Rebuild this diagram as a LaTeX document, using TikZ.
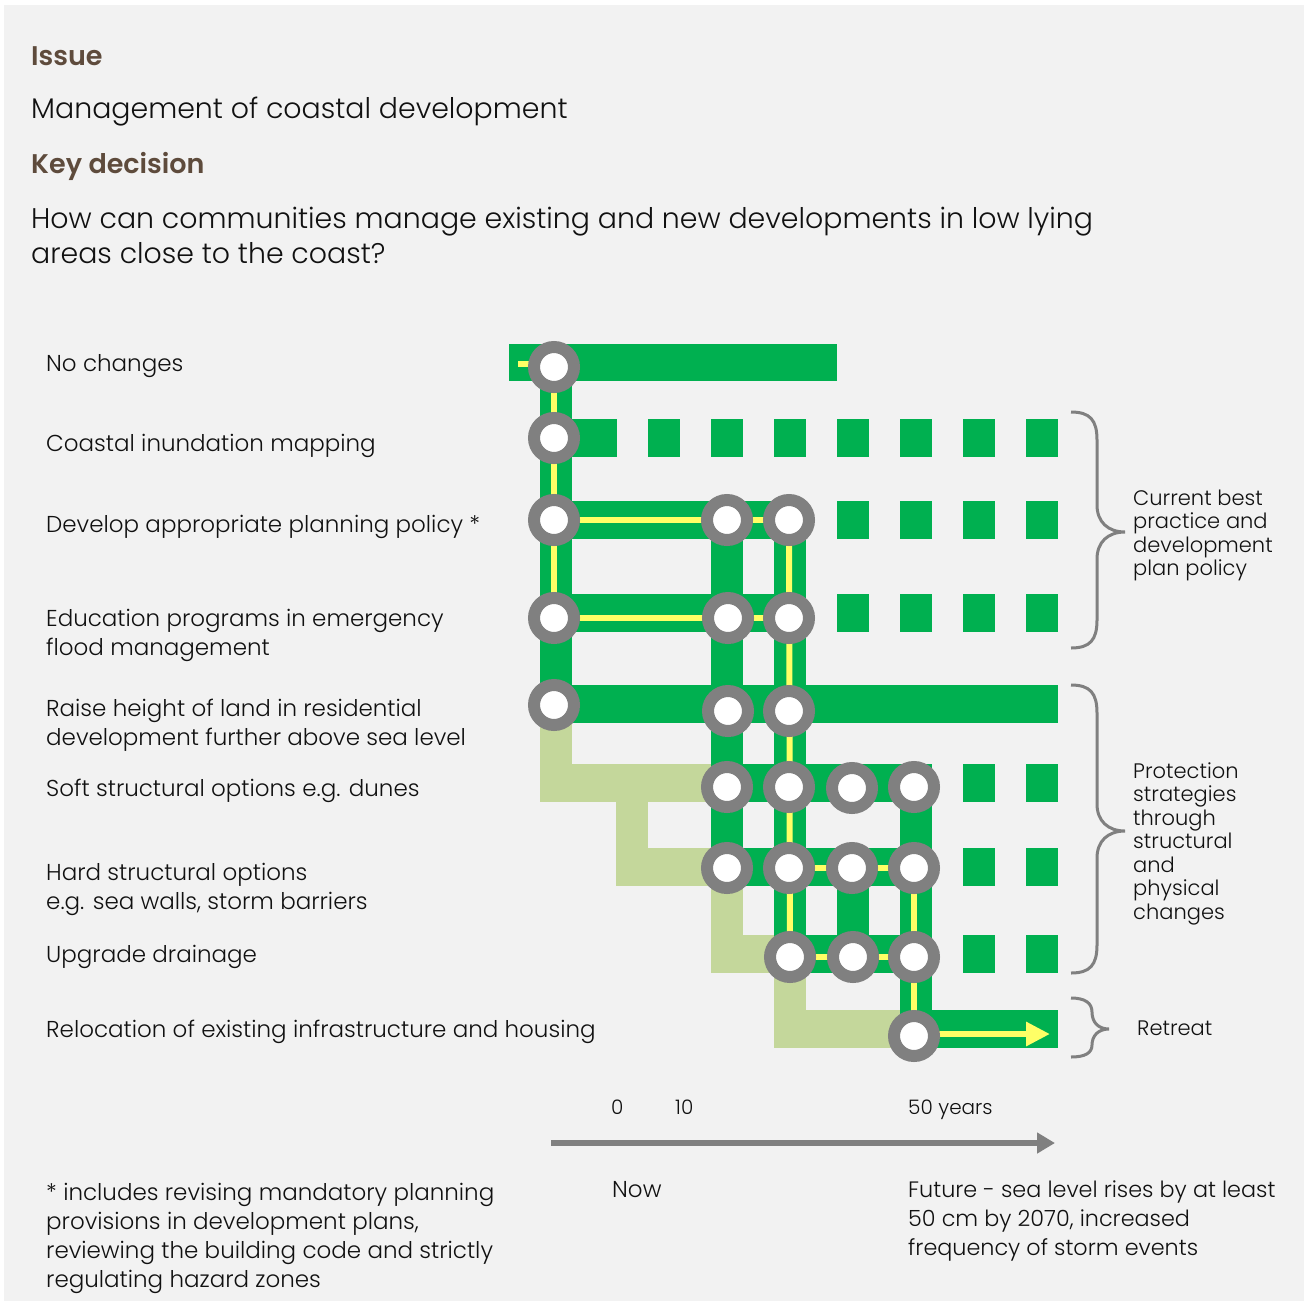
\documentclass[tikz,border=0pt]{standalone}
\usepackage{fontspec}
\setmainfont{Poppins Light}[BoldFont={Poppins SemiBold}]
\usetikzlibrary{arrows.meta}
\definecolor{bg}{HTML}{F2F2F2}
\definecolor{grn}{HTML}{00B050}
\definecolor{lgrn}{HTML}{C4D79B}
\definecolor{yel}{HTML}{FFFF66}
\definecolor{ring}{HTML}{808080}
\definecolor{brn}{HTML}{5E4B3C}
\definecolor{txt}{HTML}{111111}
\newcommand{\ml}[1]{\begin{tabular}[t]{@{}l@{}}#1\end{tabular}}
\begin{document}
\begin{tikzpicture}[x=1pt,y=-1pt,
 lbl/.style={anchor=base west,inner sep=0pt,text=txt,font=\fontsize{23}{29}\selectfont},
 bot/.style={anchor=base west,inner sep=0pt,text=txt,font=\fontsize{23}{29.3}\selectfont},
 fut/.style={anchor=base west,inner sep=0pt,text=txt,font=\fontsize{22.3}{29}\selectfont},
 head/.style={anchor=base west,inner sep=0pt,text=txt,font=\fontsize{28.4}{35}\selectfont},
 hb/.style={anchor=base west,inner sep=0pt,text=brn,font=\fontsize{27}{34}\selectfont\bfseries},
 sm/.style={anchor=base west,inner sep=0pt,text=txt,font=\fontsize{21}{23.5}\selectfont},
 ax/.style={anchor=base west,inner sep=0pt,text=txt,font=\fontsize{20}{24}\selectfont},
 g/.style={fill=grn}, lg/.style={fill=lgrn},
 yl/.style={draw=yel,line width=6pt},
 dot/.style={circle,draw=ring,fill=white,line width=12pt,minimum size=40pt,inner sep=0pt},
 brace/.style={draw=ring,line width=3pt},
]
\useasboundingbox (0,0) rectangle (1308,1301);
\fill[white] (0,0) rectangle (1308,1301);
\fill[bg] (4,5) rectangle (1304,1301);

% headings
\node[hb] (issue) at (31,65) {Issue};
\node[head] (mgmt) at (31,118) {Management of coastal development};
\node[hb] (key) at (31,173) {Key decision};
\node[head] (q) at (31,228) {\ml{How can communities manage existing and new developments in low lying\\areas close to the coast?}};

% labels
\node[lbl] (l1) at (46,371) {No changes};
\node[lbl] (l2) at (46,451) {Coastal inundation mapping};
\node[lbl] (l3) at (46,532) {Develop appropriate planning policy *};
\node[lbl] (l4) at (46,626) {\ml{Education programs in emergency\\flood management}};
\node[lbl] (l5) at (46,716) {\ml{Raise height of land in residential\\development further above sea level}};
\node[lbl] (l6) at (46,796) {Soft structural options e.g. dunes};
\node[lbl] (l7) at (46,880) {\ml{Hard structural options\\e.g. sea walls, storm barriers}};
\node[lbl] (l8) at (46,962) {Upgrade drainage};
\node[lbl] (l9) at (46,1037) {Relocation of existing infrastructure and housing};

% coordinates of decision points
\coordinate (A1) at (554,367);
\coordinate (A2) at (554,438);
\coordinate (A3) at (554,520);
\coordinate (B3) at (727,520);
\coordinate (C3) at (789,520);
\coordinate (A4) at (554,618);
\coordinate (B4) at (728,618);
\coordinate (C4) at (789,618);
\coordinate (A5) at (554,705);
\coordinate (B5) at (728,711);
\coordinate (C5) at (789,711);
\coordinate (B6) at (727,787);
\coordinate (C6) at (789,787);
\coordinate (D6) at (852,788);
\coordinate (E6) at (914,787);
\coordinate (B7) at (727,868);
\coordinate (C7) at (789,868);
\coordinate (D7) at (852,868);
\coordinate (E7) at (914,868);
\coordinate (C8) at (790,957);
\coordinate (D8) at (853,957);
\coordinate (E8) at (914,957);
\coordinate (E9) at (914,1036);

% light green (inactive) paths
\fill[lg] (540,723) rectangle (572,802);
\fill[lg] (540,764) rectangle (711,802);
\fill[lg] (616,802) rectangle (648,886);
\fill[lg] (616,848) rectangle (711,886);
\fill[lg] (711,886) rectangle (743,973);
\fill[lg] (711,935) rectangle (774,973);
\fill[lg] (774,973) rectangle (806,1048);
\fill[lg] (774,1010) rectangle (900,1048);

% green rows
\fill[g] (509,344) rectangle (837,381);
\fill[g] (540,419) rectangle (617,457);
\foreach \x in {648,711,774,837,900,963,1026} \fill[g] (\x,419) rectangle ++(32,38);
\fill[g] (540,501) rectangle (806,539);
\foreach \x in {837,900,963,1026} \fill[g] (\x,501) rectangle ++(32,38);
\fill[g] (540,594) rectangle (806,632);
\foreach \x in {837,900,963,1026} \fill[g] (\x,594) rectangle ++(32,38);
\fill[g] (540,685) rectangle (1058,723);
\fill[g] (711,764) rectangle (932,802);
\foreach \x in {963,1026} \fill[g] (\x,764) rectangle ++(32,38);
\fill[g] (711,848) rectangle (932,886);
\foreach \x in {963,1026} \fill[g] (\x,848) rectangle ++(32,38);
\fill[g] (774,935) rectangle (932,973);
\foreach \x in {963,1026} \fill[g] (\x,935) rectangle ++(32,38);
\fill[g] (900,1010) rectangle (1058,1048);
% green columns
\fill[g] (540,344) rectangle (572,723);
\fill[g] (711,501) rectangle (743,886);
\fill[g] (774,501) rectangle (806,973);
\fill[g] (837,848) rectangle (869,973);
\fill[g] (900,764) rectangle (932,1048);

% yellow route
\coordinate (ys) at (518,364);
\draw[yl] (ys) -- (ys -| A1);
\draw[yl] (A1) -- (A2) -- (A3) -- (A4);
\draw[yl] (A3) -- (C3);
\draw[yl] (A4) -- (C4);
\draw[yl] (C3) -- (C8);
\draw[yl] (C7) -- (E7);
\draw[yl] (C8) -- (E8);
\draw[yl] (E7) -- (E9);
\coordinate (ye) at (1050,1034);
\draw[yl,-{Triangle[length=24pt,width=23pt]}] (E9 |- ye) -- (ye);

% decision points
\foreach \p in {A1,A2,A3,B3,C3,A4,B4,C4,A5,B5,C5,B6,C6,D6,E6,B7,C7,D7,E7,C8,D8,E8,E9}
  \node[dot] (n\p) at (\p) {};

% braces
\draw[brace] (1071,412) .. controls (1090,412) and (1097,420) .. (1097,440) -- (1097,505)
  .. controls (1097,522) and (1108,532) .. (1125,532)
  .. controls (1108,532) and (1097,542) .. (1097,559) -- (1097,620)
  .. controls (1097,640) and (1090,648) .. (1071,648);
\draw[brace] (1071,685) .. controls (1090,685) and (1097,693) .. (1097,713) -- (1097,804)
  .. controls (1097,821) and (1108,831) .. (1125,831)
  .. controls (1108,831) and (1097,841) .. (1097,858) -- (1097,945)
  .. controls (1097,965) and (1090,973) .. (1071,973);
\draw[brace] (1071,998) .. controls (1085,998) and (1092,1003) .. (1092,1012)
  .. controls (1092,1022) and (1098,1029) .. (1109,1029)
  .. controls (1098,1029) and (1092,1036) .. (1092,1045)
  .. controls (1092,1053) and (1085,1057) .. (1071,1057);

\node[sm] (b1) at (1133,505) {\ml{Current best\\practice and\\development\\plan policy}};
\node[sm] (b2) at (1133,778) {\ml{Protection\\strategies\\through\\structural\\and\\physical\\changes}};
\node[sm] (b3) at (1137,1035) {Retreat};

% time axis
\node[ax] (t0) at (611,1114) {0};
\node[ax] (t10) at (675,1114) {10};
\node[ax] (t50) at (908,1114) {50 years};
\coordinate (ax0) at (551,1143);
\coordinate (ax1) at (1055,1143);
\draw[draw=ring,line width=6pt,-{Triangle[length=18pt,width=20pt]}] (ax0) -- (ax1);
\node[bot] (now) at (612,1197) {Now};
\node[fut] (future) at (908,1197) {\ml{Future - sea level rises by at least\\50 cm by 2070, increased\\frequency of storm events}};
\node[bot] (foot) at (46,1200) {\ml{* includes revising mandatory planning\\provisions in development plans,\\reviewing the building code and strictly\\regulating hazard zones}};
\end{tikzpicture}
\end{document}
